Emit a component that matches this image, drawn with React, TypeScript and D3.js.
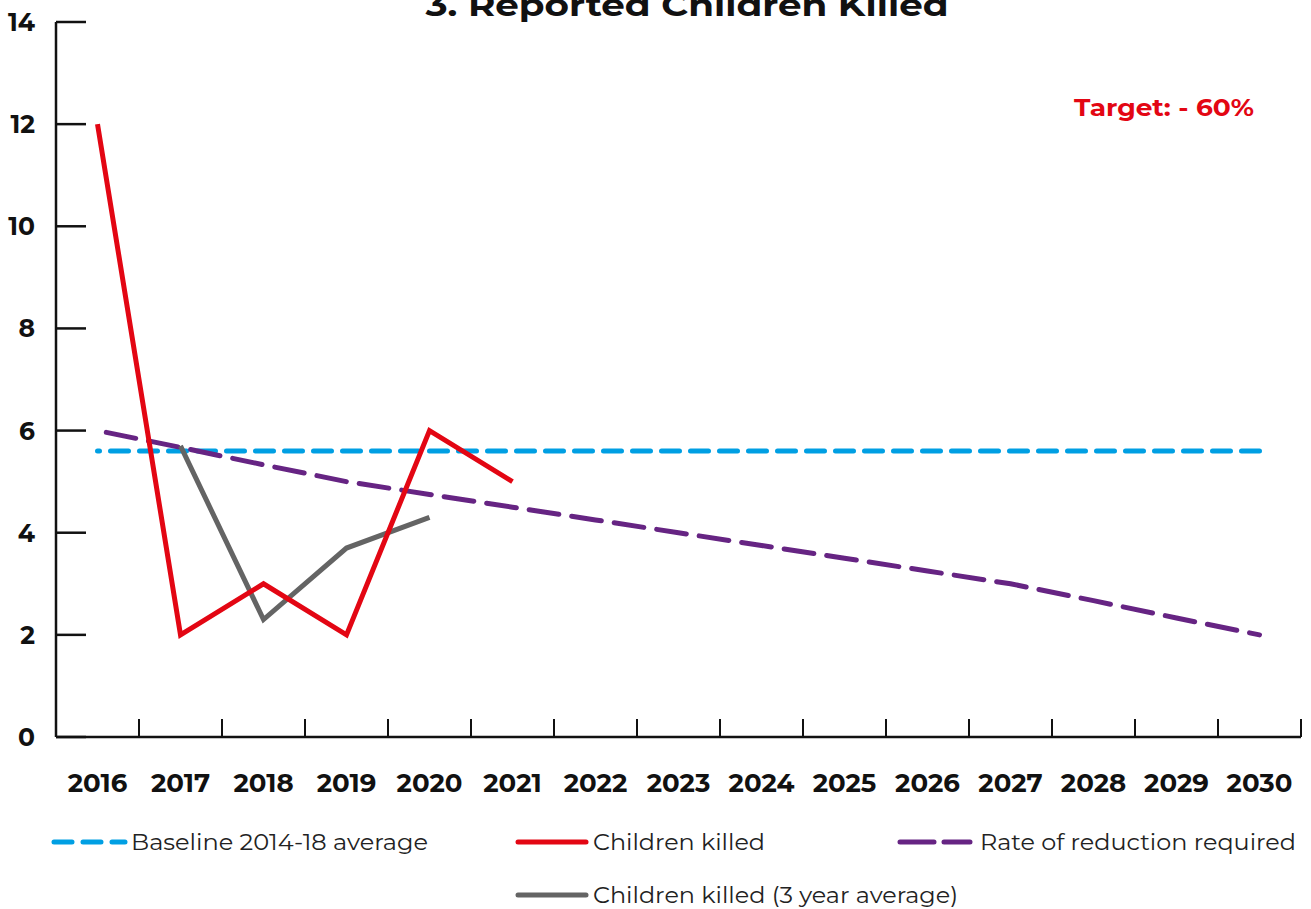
import React from 'react';
import * as d3 from 'd3';

// years on the x axis
const years = ['2016', '2017', '2018', '2019', '2020', '2021', '2022', '2023', '2024', '2025', '2026', '2027', '2028', '2029', '2030'];
const yTicks = [0, 2, 4, 6, 8, 10, 12, 14];

// series
const killedYears = ['2016', '2017', '2018', '2019', '2020', '2021'];
const killedValues = [12, 2, 3, 2, 6, 5];
const avgYears = ['2017', '2018', '2019', '2020'];
const avgValues = [5.7, 2.3, 3.7, 4.3];
const baselineValue = 5.6;
const reductionValues = [6, 5.67, 5.33, 5, 4.75, 4.5, 4.25, 4, 3.75, 3.5, 3.25, 3, 2.67, 2.33, 2];

const RED = '#e30613';
const BLUE = '#009fe3';
const PURPLE = '#662483';
const GREY = '#646464';
const FONT = 'Montserrat, "DejaVu Sans", sans-serif';

export default function App() {
  const width = 1311;
  const height = 909;
  const margin = { top: 22, right: 10, bottom: 172, left: 56 };

  const x = d3.scaleBand<string>()
    .domain(years)
    .range([margin.left, 1301])
    .padding(0);
  const y = d3.scaleLinear()
    .domain([0, 14])
    .range([height - margin.bottom, margin.top]);

  const cx = (yr: string) => (x(yr) ?? 0) + x.bandwidth() / 2;

  const line = d3.line<[string, number]>()
    .x(d => cx(d[0]))
    .y(d => y(d[1]));

  const killed = line(killedYears.map((yr, i) => [yr, killedValues[i]] as [string, number]));
  const avg = line(avgYears.map((yr, i) => [yr, avgValues[i]] as [string, number]));
  const baseline = line(years.map(yr => [yr, baselineValue] as [string, number]));
  const reduction = line(years.map((yr, i) => [yr, reductionValues[i]] as [string, number]));

  const x0 = 56;
  const x1 = 1301;
  const y0 = y(0);

  return (
    <svg width={width} height={height} style={{ position: 'absolute', left: 0, top: 0, background: '#fff' }}>
      {/* title, cut at the top like the original */}
      <text x={687} y={16} textAnchor="middle" fontFamily={FONT} fontWeight="bold" fontSize={31}
        textLength={523} lengthAdjust="spacingAndGlyphs" fill="#111">
        3. Reported Children Killed
      </text>

      {/* y axis */}
      <line x1={x0} x2={x0} y1={y(14)} y2={y0} stroke="#111" strokeWidth={2.5} />
      {yTicks.map(t => (
        <g key={t}>
          <line x1={x0} x2={x0 + 30} y1={y(t)} y2={y(t)} stroke="#111" strokeWidth={2.5} />
          <text x={35} y={y(t)} dy="0.36em" textAnchor="end" fontFamily={FONT} fontWeight="bold" fontSize={25} fill="#111">
            {t}
          </text>
        </g>
      ))}

      {/* x axis */}
      <line x1={x0} x2={x1} y1={y0} y2={y0} stroke="#111" strokeWidth={2.5} />
      {years.map((yr, i) => (
        <g key={yr}>
          {i > 0 && (
            <line x1={x(yr)} x2={x(yr)} y1={y0} y2={y0 - 18} stroke="#111" strokeWidth={2} />
          )}
          <text x={cx(yr)} y={783} dy="0.36em" textAnchor="middle" fontFamily={FONT} fontWeight="bold" fontSize={26} fill="#111">
            {yr}
          </text>
        </g>
      ))}
      <line x1={x1} x2={x1} y1={y0} y2={y0 - 18} stroke="#111" strokeWidth={2} />

      {/* series */}
      <path d={baseline ?? ''} fill="none" stroke={BLUE} strokeWidth={5} strokeLinecap="round"
        strokeDasharray="18 11" strokeDashoffset={16} />
      <path d={reduction ?? ''} fill="none" stroke={PURPLE} strokeWidth={5} strokeLinecap="round"
        strokeDasharray="30 13" strokeDashoffset={34} />
      <path d={avg ?? ''} fill="none" stroke={GREY} strokeWidth={5} strokeLinejoin="miter" />
      <path d={killed ?? ''} fill="none" stroke={RED} strokeWidth={5} strokeLinejoin="miter" />

      <text x={1254} y={107} dy="0.36em" textAnchor="end" fontFamily={FONT} fontWeight="bold" fontSize={24}
        textLength={180} lengthAdjust="spacingAndGlyphs" fill={RED}>
        Target: - 60%
      </text>

      {/* legend */}
      <g fontFamily={FONT} fontSize={22} fill="#222">
        <line x1={54} x2={125} y1={842} y2={842} stroke={BLUE} strokeWidth={5} strokeLinecap="round" strokeDasharray="18 11" />
        <text x={131} y={842} dy="0.36em" textLength={297} lengthAdjust="spacingAndGlyphs">Baseline 2014-18 average</text>

        <line x1={518} x2={586} y1={842} y2={842} stroke={RED} strokeWidth={5} strokeLinecap="round" />
        <text x={593} y={842} dy="0.36em" textLength={172} lengthAdjust="spacingAndGlyphs">Children killed</text>

        <line x1={900} x2={970} y1={842} y2={842} stroke={PURPLE} strokeWidth={5} strokeLinecap="round" strokeDasharray="34 10" />
        <text x={980} y={842} dy="0.36em" textLength={316} lengthAdjust="spacingAndGlyphs">Rate of reduction required</text>

        <line x1={518} x2={586} y1={895} y2={895} stroke={GREY} strokeWidth={5} strokeLinecap="round" />
        <text x={593} y={895} dy="0.36em" textLength={365} lengthAdjust="spacingAndGlyphs">Children killed (3 year average)</text>
      </g>
    </svg>
  );
}
